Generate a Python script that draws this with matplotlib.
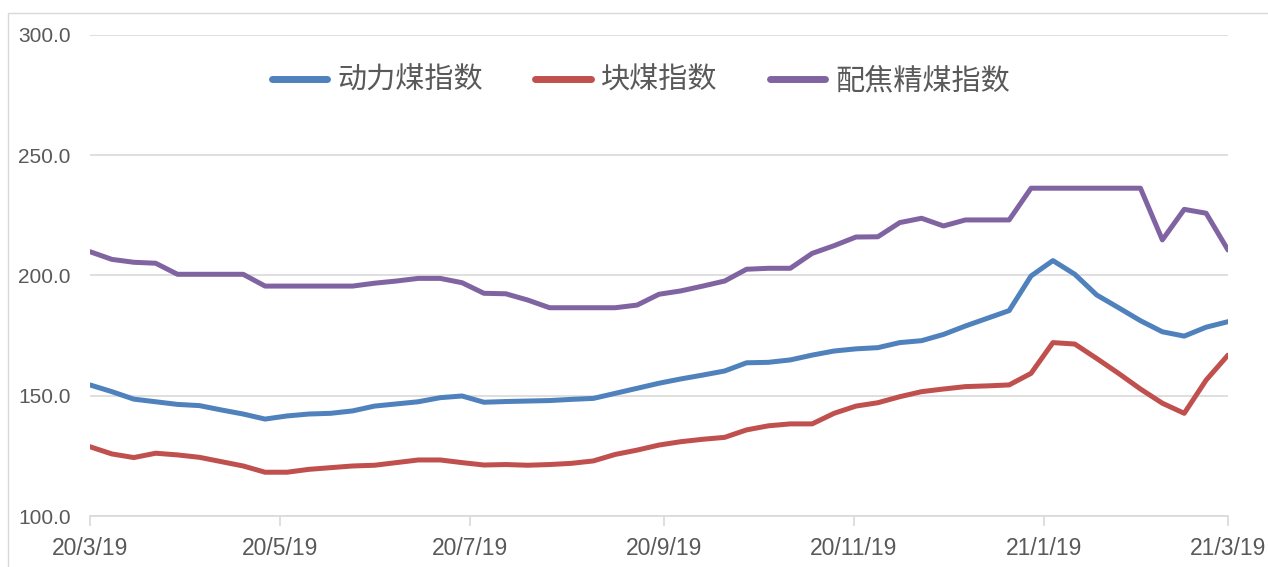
import matplotlib
matplotlib.use("Agg")
import matplotlib.pyplot as plt
from matplotlib.patches import Rectangle
import pandas as pd

plt.rcParams['font.family'] = ['Liberation Sans', 'Noto Sans CJK SC', 'DejaVu Sans']

dates = pd.date_range("2020-03-19", "2021-03-19", periods=53)

thermal_coal = [154.5, 151.7, 148.6, 147.5, 146.4, 145.9, 144.1, 142.4, 140.3, 141.6,
                142.4, 142.7, 143.7, 145.7, 146.6, 147.5, 149.2, 149.9, 147.3, 147.6,
                147.8, 148.0, 148.5, 148.9, 151.0, 153.1, 155.2, 157.0, 158.6, 160.3,
                163.7, 163.9, 164.9, 166.9, 168.6, 169.5, 170.0, 172.1, 172.9, 175.5,
                179.0, 182.2, 185.4, 199.8, 206.2, 200.5, 191.9, 186.6, 181.2, 176.6,
                174.8, 178.5, 180.8]

lump_coal = [128.8, 125.8, 124.3, 126.1, 125.4, 124.4, 122.6, 120.8, 118.2, 118.2,
             119.4, 120.1, 120.8, 121.1, 122.2, 123.3, 123.3, 122.2, 121.2, 121.4,
             121.1, 121.4, 121.9, 122.9, 125.6, 127.4, 129.5, 130.9, 131.9, 132.7,
             135.8, 137.5, 138.3, 138.3, 142.7, 145.7, 147.1, 149.6, 151.7, 152.8,
             153.8, 154.1, 154.5, 159.3, 172.1, 171.5, 165.5, 159.3, 152.8, 146.9,
             142.7, 156.5, 166.9]

coking_coal = [209.9, 206.7, 205.5, 205.1, 200.5, 200.5, 200.5, 200.5, 195.6, 195.6,
               195.6, 195.6, 195.6, 196.8, 197.7, 198.8, 198.8, 197.0, 192.6, 192.4,
               189.8, 186.6, 186.6, 186.6, 186.6, 187.7, 192.2, 193.6, 195.6, 197.7,
               202.6, 203.0, 203.0, 209.2, 212.4, 216.0, 216.1, 222.0, 223.8, 220.6,
               223.1, 223.1, 223.1, 236.3, 236.3, 236.3, 236.3, 236.3, 236.3, 214.8,
               227.5, 225.9, 210.6]

series_names = ["动力煤指数", "块煤指数", "配焦精煤指数"]
colors = ["#4f81bd", "#c0504d", "#8064a2"]

tick_dates = pd.to_datetime(["2020-03-19", "2020-05-19", "2020-07-19", "2020-09-19",
                             "2020-11-19", "2021-01-19", "2021-03-19"])
tick_labels = ["20/3/19", "20/5/19", "20/7/19", "20/9/19", "20/11/19", "21/1/19", "21/3/19"]
y_ticks = [100, 150, 200, 250, 300]

W, H = 1268, 567
fig = plt.figure(figsize=(W / 100, H / 100), dpi=100)
ax = fig.add_axes([90 / W, 1 - 516 / H, (1228 - 90) / W, (516 - 35) / H])

# outer chart border
fig.patches.append(Rectangle((8 / W, -0.1), 1.2, 1 - 13 / H + 0.1, transform=fig.transFigure,
                             fill=False, edgecolor="#d9d9d9", linewidth=1.0))

for vals, name, c in zip([thermal_coal, lump_coal, coking_coal], series_names, colors):
    ax.plot(dates, vals, color=c, linewidth=3.6, label=name, solid_joinstyle="round",
            solid_capstyle="round")

ax.set_xlim(pd.Timestamp("2020-03-19"), pd.Timestamp("2021-03-19"))
ax.set_ylim(100, 300)
ax.set_yticks(y_ticks)
ax.set_yticklabels([f"{v:.1f}" for v in y_ticks])
ax.set_xticks(tick_dates)
ax.set_xticklabels(tick_labels)

ax.grid(axis="y", color="#d9d9d9", linewidth=1.2)
ax.set_axisbelow(True)
for s in ["top", "right", "left"]:
    ax.spines[s].set_visible(False)
ax.spines["bottom"].set_color("#d9d9d9")
ax.spines["bottom"].set_linewidth(1.2)

ax.tick_params(axis="y", length=0, pad=14, labelsize=15, labelcolor="#595959")
ax.tick_params(axis="x", length=7, width=1.2, color="#d9d9d9", pad=8,
               labelsize=16.5, labelcolor="#595959")

leg = ax.legend(loc="center", bbox_to_anchor=((641 - 90) / (1228 - 90), 1 - (81 - 35) / (516 - 35)),
                ncol=3, frameon=False,
                prop={"family": ["Noto Sans CJK SC"], "size": 21, "weight": "light"},
                handlelength=1.9, handletextpad=0.35, columnspacing=1.8)
for t in leg.get_texts():
    t.set_color("#595959")
for l in leg.get_lines():
    l.set_linewidth(5)

fig.savefig("out.png", dpi=100)
